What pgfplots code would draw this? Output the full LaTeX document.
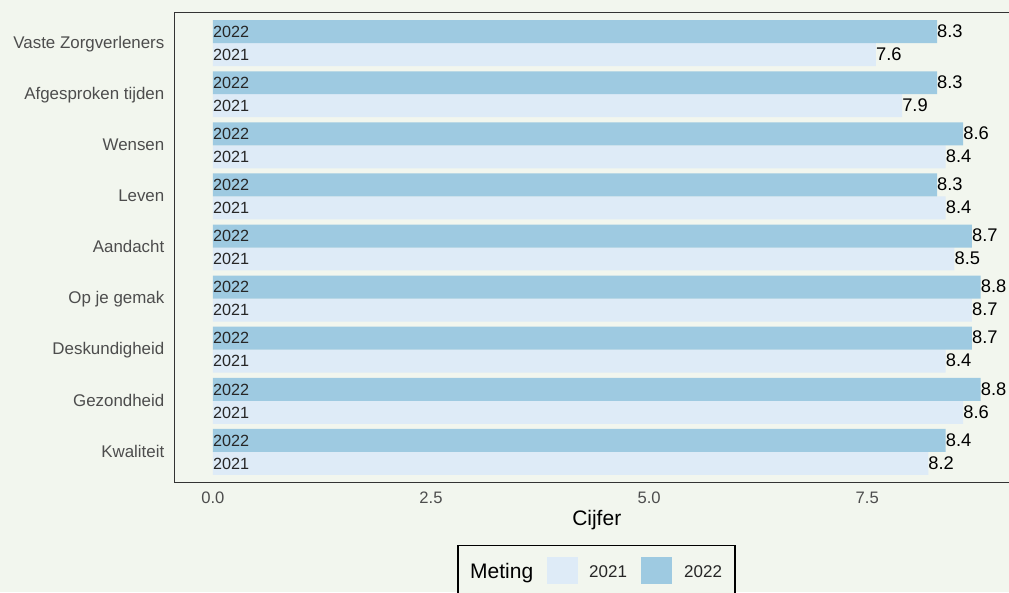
\documentclass[border=0pt]{standalone}
\usepackage{pgfplots}
\pgfplotsset{compat=1.18}
\usepackage{pgfplotstable}
\usepackage{fontspec}
\setmainfont{Liberation Sans}
\definecolor{bg}{HTML}{F2F6EE}
\definecolor{c21}{HTML}{DEEBF7}
\definecolor{c22}{HTML}{9ECAE1}
\definecolor{tickgrey}{HTML}{4D4D4D}
\definecolor{frame}{HTML}{333333}

\pgfplotstableread{
pos v2021 v2022
9 7.6 8.3
8 7.9 8.3
7 8.4 8.6
6 8.4 8.3
5 8.5 8.7
4 8.7 8.8
3 8.4 8.7
2 8.6 8.8
1 8.2 8.4
}\data

\begin{document}
\begin{tikzpicture}[x=1pt,y=1pt]
\useasboundingbox (0,0) rectangle (1009,-592);
\clip (0,0) rectangle (1009,-592);
\fill[bg] (0,0) rectangle (1009,-592);
\begin{axis}[
  at={(174.5pt,-482.5pt)}, anchor=south west,
  scale only axis, width=844.5pt, height=470pt,
  xmin=-0.44, xmax=9.24, ymin=0.4, ymax=9.6,
  axis line style={draw=frame, line width=1pt},
  major tick length=0pt,
  tick style={draw=none},
  xtick={0,2.5,5,7.5},
  xticklabels={0.0,2.5,5.0,7.5},
  ytick={1,2,3,4,5,6,7,8,9},
  yticklabels={Kwaliteit,Gezondheid,Deskundigheid,Op je gemak,Aandacht,Leven,Wensen,Afgesproken tijden,Vaste Zorgverleners},
  xticklabel style={anchor=base, inner sep=0pt, yshift=-20.5pt, text=tickgrey, font=\fontsize{16.6}{19}\selectfont},
  yticklabel style={anchor=base east, inner sep=0pt, xshift=-10pt, yshift=-5.3pt, text=tickgrey, font=\fontsize{16.9}{19}\selectfont},
  /pgf/number format/assume math mode=true,
  clip=false,
]
\addplot[xbar, bar width=0.45, bar shift=0pt, fill=c21, draw=none, point meta=x,
  nodes near coords={\pgfmathprintnumber[fixed,fixed zerofill,precision=1,assume math mode=true]{\pgfplotspointmeta}},
  nodes near coords style={anchor=base west, inner sep=0pt, yshift=-5.8pt, text=black, font=\fontsize{18.3}{20}\selectfont}]
  table[x=v2021, y expr=\thisrow{pos}-0.225] {\data};
\addplot[xbar, bar width=0.45, bar shift=0pt, fill=c22, draw=none, point meta=x,
  nodes near coords={\pgfmathprintnumber[fixed,fixed zerofill,precision=1,assume math mode=true]{\pgfplotspointmeta}},
  nodes near coords style={anchor=base west, inner sep=0pt, yshift=-5.8pt, text=black, font=\fontsize{18.3}{20}\selectfont}]
  table[x=v2022, y expr=\thisrow{pos}+0.225] {\data};
\addplot[only marks, mark=none, point meta=x, nodes near coords={2021},
  nodes near coords style={anchor=base west, inner sep=0pt, yshift=-5.8pt, text=black!85, font=\fontsize{16.2}{18}\selectfont}]
  table[x expr=0, y expr=\thisrow{pos}-0.225] {\data};
\addplot[only marks, mark=none, point meta=x, nodes near coords={2022},
  nodes near coords style={anchor=base west, inner sep=0pt, yshift=-5.8pt, text=black!85, font=\fontsize{16.2}{18}\selectfont}]
  table[x expr=0, y expr=\thisrow{pos}+0.225] {\data};
\end{axis}
\node[anchor=base, inner sep=0pt, font=\fontsize{21}{24}\selectfont] at (596.75,-525) {Cijfer};
\draw[black, line width=1.3pt, fill=bg] (458,-545.7) rectangle (735,-597);
\node[anchor=base west, inner sep=0pt, font=\fontsize{21}{24}\selectfont] at (470,-578.5) {Meting};
\fill[c21] (546.7,-557) rectangle (577.7,-584);
\node[anchor=base west, inner sep=0pt, text=black!85, font=\fontsize{17}{19}\selectfont] at (589,-577.7) {2021};
\fill[c22] (641,-557) rectangle (672,-584);
\node[anchor=base west, inner sep=0pt, text=black!85, font=\fontsize{17}{19}\selectfont] at (684,-577.7) {2022};
\end{tikzpicture}
\end{document}
